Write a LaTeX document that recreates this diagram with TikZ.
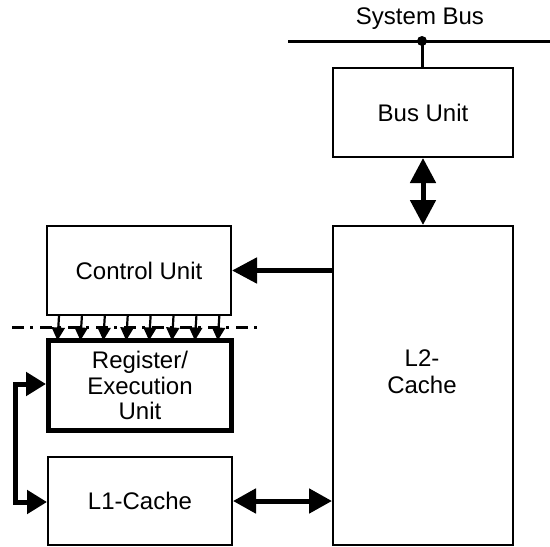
\documentclass[tikz,border=0pt]{standalone}
\usepackage{fontspec}
\setmainfont{Liberation Sans}
\usetikzlibrary{arrows.meta}

\tikzset{
  unitbox/.style={draw, line width=2pt, inner sep=0pt, align=center,
    font=\fontsize{24}{25.5}\selectfont},
  bigarrow/.style={line width=5pt, -{Triangle[length=25pt,width=25pt]}},
  bigboth/.style={line width=5pt, {Triangle[length=25pt,width=25pt]}-{Triangle[length=25pt,width=25pt]}},
  sidearrow/.style={line width=5pt, -{Triangle[length=20pt,width=23pt]}},
  sideboth/.style={line width=5pt, {Triangle[length=23pt,width=24pt]}-{Triangle[length=23pt,width=24pt]}},
  ctrlarrow/.style={line width=2.2pt, -{Triangle[length=13pt,width=13pt]}},
  sepline/.style={line width=3pt, dash pattern=on 12pt off 6pt on 3pt off 7pt},
}

\begin{document}
\begin{tikzpicture}[x=1pt, y=-1pt]
  \useasboundingbox (0,0) rectangle (550,547);

  % system bus
  \coordinate (busL) at (288,41);
  \coordinate (busR) at (550,41);
  \coordinate (tap) at (422,41);
  \draw[line width=3pt] (busL) -- (busR);
  \node[font=\fontsize{24}{28}\selectfont] (bustext) at (420,19) {System Bus};

  % functional units
  \node[unitbox, minimum width=180pt, minimum height=89pt] (bus) at (423,112.5) {Bus Unit};
  \node[unitbox, minimum width=180pt, minimum height=319pt] (l2) at (423,385.5) {};
  \node[font=\fontsize{24}{27}\selectfont, align=center] (l2text) at (422,372) {L2-\\Cache};
  \node[unitbox, minimum width=184pt, minimum height=89pt] (ctrl) at (139,270.5) {Control Unit};
  \node[unitbox, line width=5pt, minimum width=183pt, minimum height=90pt] (reg) at (140,385.5) {Register/\\Execution\\Unit};
  \node[unitbox, minimum width=184pt, minimum height=88pt] (l1) at (140,501) {L1-Cache};

  % bus tap
  \fill (tap) circle (5pt);
  \draw[line width=3pt] (tap) -- (bus.north -| tap);

  % bus unit <-> L2 cache
  \draw[bigboth] (bus.south) -- (l2.north);

  % L2 cache -> control unit
  \draw[bigarrow] (l2.west |- ctrl.east) -- (ctrl.east);

  % L1 cache <-> L2 cache
  \draw[sideboth] (l1.east) -- (l1.east -| l2.west);

  % control separation line
  \coordinate (sepL) at (12,327);
  \coordinate (sepR) at (262,327);
  \draw[sepline] (sepL) -- (sepR);

  % control signals
  \foreach \i in {0,...,7} {
    \draw[ctrlarrow] ([xshift=13+22.9*\i]ctrl.south west) -- ([xshift=11.5+22.9*\i, yshift=-2.5]reg.north west);
  }

  % register file <-> L1 cache loop
  \coordinate (loopT) at (15,384);
  \coordinate (loopB) at (15,502);
  \draw[line width=5pt, line cap=rect] (loopT) -- (loopB);
  \draw[sidearrow] (loopT) -- (reg.west |- loopT);
  \draw[sidearrow] (loopB) -- (l1.west |- loopB);
\end{tikzpicture}
\end{document}
